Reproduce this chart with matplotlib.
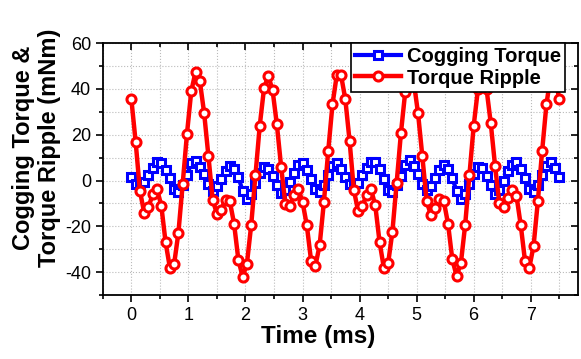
"""Cogging torque and torque ripple vs. time, Origin-like styling.
Writes out.png.
"""
import matplotlib; matplotlib.use("Agg")
import matplotlib.pyplot as plt
import numpy as np
from matplotlib.ticker import MultipleLocator

plt.rcParams.update({"font.family": ["Liberation Sans", "DejaVu Sans"],
                     "axes.unicode_minus": False})

# sample times (ms), 0.075 ms step
time_ms = np.arange(101) * 0.075

cogging = [1.6, -1.5, -3.0, -0.5, 2.5, 5.5, 8.0, 7.5, 4.5, 1.0,
           -3.5, -5.0, -2.0, 2.5, 7.5, 8.5, 6.0, 3.0, -1.5, -4.5,
           -2.5, 0.5, 4.0, 6.5, 5.0, 1.5, -4.5, -8.0, -6.0, -1.0,
           3.5, 6.0, 5.0, 2.0, -2.0, -5.5, -4.0, -0.5, 3.5, 7.0,
           7.5, 4.5, 0.5, -3.5, -5.0, -2.0, 2.5, 6.5, 7.5, 5.0,
           1.5, -1.5, -3.0, -1.0, 2.5, 5.5, 8.0, 8.0, 5.0, 0.5,
           -4.0, -5.0, -2.0, 2.0, 7.0, 9.0, 6.5, 3.0, -1.5, -4.2,
           -2.5, 1.0, 4.5, 6.7, 5.0, 1.0, -4.5, -8.0, -6.0, -1.5,
           3.0, 6.0, 5.5, 2.0, -2.0, -5.7, -4.0, 0.0, 4.0, 7.0,
           8.2, 5.0, 1.0, -3.5, -5.0, -2.0, 2.5, 6.5, 8.2, 5.5,
           1.6]

ripple = [35.5, 16.9, -4.5, -14.1, -11.5, -6.0, -3.8, -11.0, -27.0, -38.0,
          -36.4, -22.7, -1.3, 20.5, 39.0, 47.5, 43.4, 29.6, 10.8, -8.3,
          -14.7, -12.7, -8.3, -9.0, -18.8, -34.5, -42.0, -36.4, -19.5, 2.3,
          23.9, 40.2, 45.7, 39.4, 24.5, 6.0, -10.3, -11.2, -6.4, -3.5,
          -9.3, -19.5, -35.0, -37.3, -28.2, -9.3, 12.8, 33.2, 46.0, 46.0,
          35.5, 17.2, -4.2, -13.4, -11.0, -6.1, -3.8, -10.8, -26.8, -38.0,
          -36.2, -22.4, -0.9, 20.8, 38.7, 47.0, 43.0, 29.3, 10.6, -8.9,
          -15.1, -12.2, -8.1, -8.9, -18.8, -34.4, -41.6, -36.2, -19.5, 2.3,
          23.9, 40.0, 46.0, 40.0, 24.9, 6.3, -10.0, -11.5, -7.6, -4.2,
          -6.7, -19.5, -35.2, -38.0, -28.5, -8.9, 13.0, 33.2, 46.0, 46.0,
          35.4]

fig = plt.figure(figsize=(5.81, 3.59), dpi=100)
ax = fig.add_axes([0.177, 0.178, 0.818, 0.702])

ax.plot(time_ms, cogging, color="#0000FF", lw=3, marker="s", ms=5.5,
        mfc="white", mec="#0000FF", mew=2.2, label="Cogging Torque", zorder=3)
ax.plot(time_ms, ripple, color="#FF0000", lw=3.2, marker="o", ms=6.5,
        mfc="white", mec="#FF0000", mew=2.2, label="Torque Ripple", zorder=4)

ax.set_xlim(-0.5, 7.83)
ax.set_ylim(-50, 60)
ax.xaxis.set_major_locator(MultipleLocator(1))
ax.xaxis.set_minor_locator(MultipleLocator(0.5))
ax.yaxis.set_major_locator(MultipleLocator(20))
ax.yaxis.set_minor_locator(MultipleLocator(10))
ax.grid(True, which="both", ls=":", lw=0.8, color="#BBBBBB", zorder=0)
ax.set_axisbelow(True)

for s in ax.spines.values():
    s.set_linewidth(1.3)
ax.tick_params(which="both", top=True, right=True, width=1.2, labelsize=13)
ax.tick_params(which="major", length=5)
ax.tick_params(which="minor", length=3)
# mirrored ticks on top/right point inward
for t in ax.xaxis.get_major_ticks() + ax.xaxis.get_minor_ticks():
    t.tick2line.set_marker(3)
for t in ax.yaxis.get_major_ticks() + ax.yaxis.get_minor_ticks():
    t.tick2line.set_marker(0)

ax.set_xlabel("Time (ms)", fontsize=17.5, fontweight="bold")
ax.xaxis.set_label_coords(0.453, -0.118)
ax.set_ylabel("Cogging Torque &\nTorque Ripple (mNm)", fontsize=17,
              fontweight="bold", linespacing=1.15)
ax.yaxis.set_label_coords(-0.088, 0.583)

leg = ax.legend(loc="upper right", bbox_to_anchor=(0.973, 1.0), borderaxespad=0,
                fancybox=False, framealpha=1, edgecolor="black",
                prop={"size": 14.5, "weight": "bold"}, handlelength=2.3,
                handletextpad=0.3, labelspacing=0.12, borderpad=0.2)
leg.get_frame().set_linewidth(1.2)
leg.set_zorder(10)

fig.savefig("out.png", dpi=100)
plt.close(fig)
